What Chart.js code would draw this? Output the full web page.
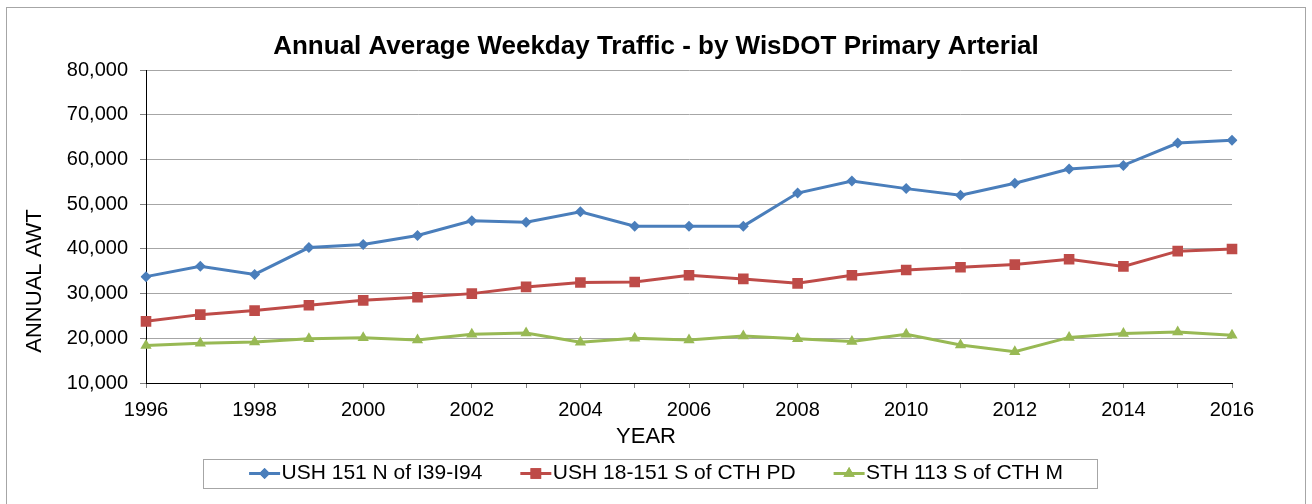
<!DOCTYPE html>
<html>
<head>
<meta charset="utf-8">
<script src="https://cdn.jsdelivr.net/npm/chart.js@4.4.1/dist/chart.umd.min.js"></script>
<style>
  html, body { margin: 0; padding: 0; background: #fff; }
  #wrap { position: relative; width: 1312px; height: 504px; }
</style>
</head>
<body>
<div id="wrap"><canvas id="trafficChart" width="1312" height="504"></canvas></div>
<script>
// Annual Average Weekday Traffic
const YEARS = ['1996','1997','1998','1999','2000','2001','2002','2003','2004','2005','2006',
               '2007','2008','2009','2010','2011','2012','2013','2014','2015','2016'];

const USH151_N = [33800, 36100, 34300, 40300, 41000, 43000, 46300, 46000, 48300, 45100, 45100,
                  45100, 52500, 55200, 53500, 52000, 54700, 57900, 58700, 63700, 64300];
const USH18_151_S = [23800, 25300, 26200, 27400, 28500, 29200, 30000, 31500, 32500, 32600, 34100,
                     33300, 32300, 34100, 35300, 35900, 36500, 37700, 36100, 39500, 40000];
const STH113_S = [18400, 18900, 19200, 19900, 20100, 19600, 20900, 21200, 19100, 20000, 19600,
                  20500, 19900, 19300, 20900, 18500, 17000, 20200, 21100, 21400, 20700];

const SERIES_NAMES = ['USH 151 N of I39-I94', 'USH 18-151 S of CTH PD', 'STH 113 S of CTH M'];
const COLORS = ['#4a7ebb', '#be4b48', '#98b954'];
const MARKERS = ['rectRot', 'rect', 'triangle'];
const MARKER_SIZE = [5.5, 7.5, 6.5];

const FONT = "'Liberation Sans', Arial, sans-serif";

// frame, axis titles, legend box + legend markers
const decorPlugin = {
  id: 'decor',
  beforeDraw(chart) {
    const ctx = chart.ctx;
    ctx.save();
    ctx.fillStyle = '#fff';
    ctx.fillRect(0, 0, chart.width, chart.height);
    ctx.strokeStyle = '#a6a6a6';
    ctx.lineWidth = 1;
    ctx.strokeRect(6.5, 7.5, 1299, 520);
    ctx.restore();
  },
  afterDraw(chart) {
    const ctx = chart.ctx;
    ctx.save();
    ctx.fillStyle = '#000';
    ctx.font = '22px ' + FONT;
    ctx.textAlign = 'center';
    ctx.textBaseline = 'middle';
    ctx.fillText('YEAR', 646, 437);
    ctx.translate(35, 281);
    ctx.rotate(-Math.PI / 2);
    ctx.fillText('ANNUAL AWT', 0, 0);
    ctx.restore();

    const boxes = chart.legend.legendHitBoxes;
    if (!boxes || !boxes.length) return;
    const first = boxes[0], last = boxes[boxes.length - 1];
    const cy = first.top + first.height / 2;
    ctx.save();
    ctx.strokeStyle = '#a6a6a6';
    ctx.lineWidth = 1;
    const x0 = Math.round(first.left - 46);
    const x1 = Math.round(last.left + last.width + 34);
    ctx.strokeRect(x0 + 0.5, Math.round(cy - 14.5) + 0.5, x1 - x0, 29);
    boxes.forEach((b, i) => {
      ctx.strokeStyle = COLORS[i];
      ctx.lineWidth = 3;
      ctx.beginPath();
      ctx.moveTo(b.left, cy);
      ctx.lineTo(b.left + 31, cy);
      ctx.stroke();
      ctx.fillStyle = COLORS[i];
      Chart.helpers.drawPoint(ctx, {pointStyle: MARKERS[i], radius: MARKER_SIZE[i], borderWidth: 0}, b.left + 15.5, cy);
      ctx.fill();
    });
    ctx.restore();
  }
};

const makeSet = (label, data, i) => ({
  label,
  data,
  borderColor: COLORS[i],
  backgroundColor: COLORS[i],
  borderWidth: 3,
  pointStyle: MARKERS[i],
  pointRadius: MARKER_SIZE[i],
  pointBorderWidth: 0,
  pointHoverRadius: MARKER_SIZE[i],
  tension: 0,
  fill: false,
});

new Chart(document.getElementById('trafficChart'), {
  type: 'line',
  data: {
    labels: YEARS,
    datasets: [
      makeSet(SERIES_NAMES[0], USH151_N, 0),
      makeSet(SERIES_NAMES[1], USH18_151_S, 1),
      makeSet(SERIES_NAMES[2], STH113_S, 2),
    ],
  },
  plugins: [decorPlugin],
  options: {
    responsive: false,
    animation: false,
    layout: { padding: { left: 0, right: 0, top: 0, bottom: 10 } },
    plugins: {
      title: {
        display: true,
        text: 'Annual Average Weekday Traffic - by WisDOT Primary Arterial',
        color: '#000',
        font: { family: FONT, size: 26, weight: 'bold' },
        padding: { top: 31, bottom: 8 },
      },
      legend: {
        position: 'bottom',
        labels: {
          color: '#000',
          font: { family: FONT, size: 21 },
          boxWidth: 22,
          boxHeight: 3,
          padding: 38,
          generateLabels: chart => chart.data.datasets.map((ds, i) => ({
            text: ds.label,
            fillStyle: 'rgba(0,0,0,0)',
            strokeStyle: 'rgba(0,0,0,0)',
            lineWidth: 0,
            datasetIndex: i,
            hidden: false,
          })),
        },
      },
      tooltip: { enabled: false },
    },
    scales: {
      x: {
        type: 'category',
        offset: false,
        grid: { display: true, drawOnChartArea: false, drawTicks: true, tickLength: 5, color: '#808080', offset: false },
        border: { display: true, color: '#000', width: 1 },
        ticks: {
          autoSkip: false,
          maxRotation: 0,
          color: '#000',
          padding: 10,
          font: { family: FONT, size: 20 },
          callback: function (v, i) { return i % 2 === 0 ? this.getLabelForValue(v) : ''; },
        },
        afterFit: s => { s.height = 42; },
      },
      y: {
        min: 10000,
        max: 80000,
        grid: { color: '#a6a6a6', lineWidth: 1, tickLength: 6, tickColor: '#808080' },
        border: { display: true, color: '#000', width: 1 },
        ticks: {
          stepSize: 10000,
          color: '#000',
          padding: 12,
          font: { family: FONT, size: 20 },
          callback: v => v.toLocaleString('en-US'),
        },
        afterFit: s => { s.width = 146; },
      },
      yRight: {
        position: 'right',
        display: true,
        grid: { display: false },
        border: { display: false },
        ticks: { display: false },
        afterFit: s => { s.width = 80; },
      },
    },
  },
});
</script>
</body>
</html>
